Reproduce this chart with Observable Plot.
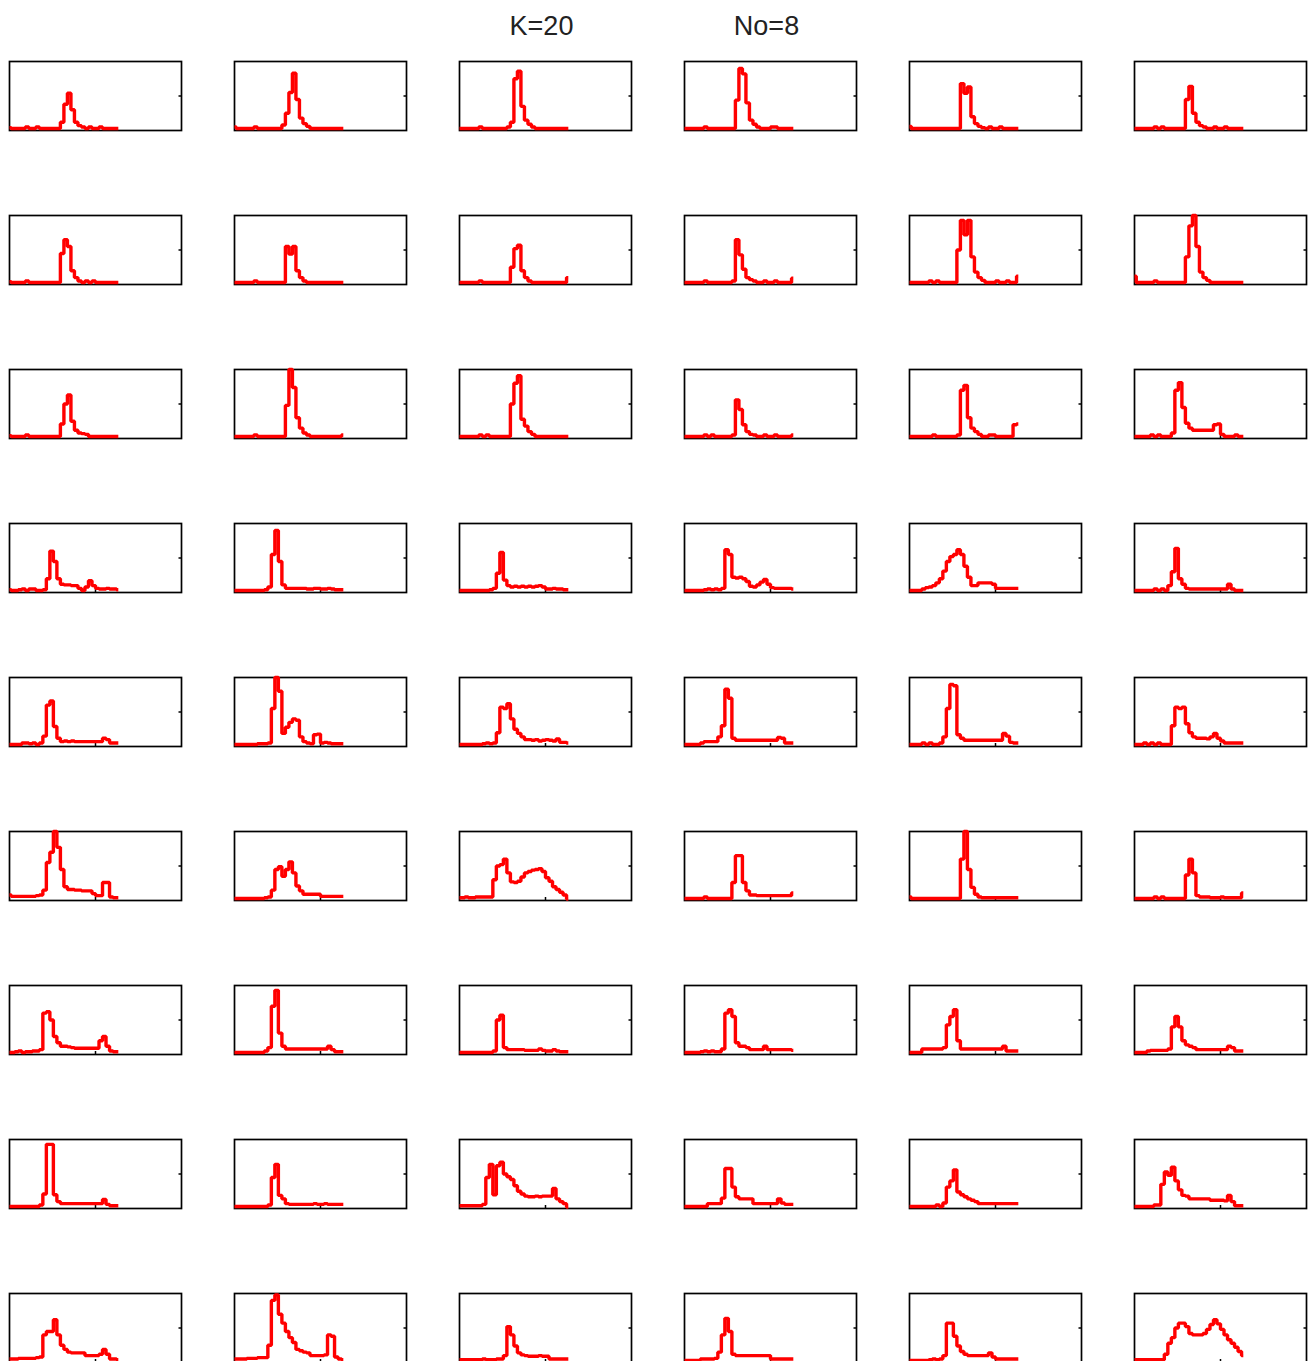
<!DOCTYPE html>
<html>
<head>
<meta charset="utf-8">
<script src="https://cdn.jsdelivr.net/npm/d3@7"></script>
<script src="https://cdn.jsdelivr.net/npm/@observablehq/plot@0.6"></script>
<style>
  html, body { margin: 0; padding: 0; background: #fff; }
  #chart svg { display: block; }
</style>
</head>
<body>
<div id="chart"></div>
<script>
// Bin positions shared by every panel (32 bins, 2 units apart).
const bins = d3.range(32).map(i => i * 2);

// Histogram heights (percent of panel height), one array per panel, six panels per row.
const row1 = [
  [4,3,3,3,3,5,3,3,5,3,3,3,3,3,3,12,38,54,30,12,7,5,3,5,3,3,5,3,3,3,3,3],
  [5,3,3,3,3,3,5,3,3,3,3,3,3,3,8,25,55,83,45,18,10,6,3,3,3,3,3,3,3,3,3,3],
  [3,3,3,3,3,3,5,3,3,3,3,3,3,3,5,12,75,86,35,15,9,5,3,3,3,3,3,3,3,3,3,3],
  [3,3,3,3,3,3,5,3,3,3,3,3,3,3,3,44,90,82,40,15,9,5,3,3,3,5,5,3,3,3,3,3],
  [6,3,3,3,3,3,3,3,3,3,3,3,3,3,3,68,54,63,20,10,6,4,3,5,3,3,5,3,3,3,3,3],
  [3,3,3,3,3,3,5,3,5,3,3,3,3,3,3,45,64,25,12,7,5,3,3,5,3,3,5,3,3,3,3,3]
];
const row2 = [
  [4,3,3,3,3,5,3,3,3,3,3,3,3,3,3,45,65,55,20,10,5,3,5,3,5,3,3,3,3,3,3,3],
  [3,3,3,3,3,3,5,3,3,3,3,3,3,3,3,55,44,55,20,10,5,3,3,3,3,3,3,3,3,3,3,3],
  [3,3,3,3,3,3,5,3,3,3,3,3,3,3,3,25,52,57,20,10,5,3,3,3,3,3,3,3,3,3,3,10],
  [3,3,3,3,3,3,5,3,3,3,3,3,3,3,5,65,43,22,10,7,5,3,3,5,3,3,5,3,3,3,3,9],
  [3,3,3,3,3,3,5,3,5,3,3,3,3,3,50,93,72,93,40,18,10,6,3,3,3,5,3,3,5,3,3,12],
  [12,3,3,3,3,3,5,3,3,3,3,3,3,3,3,40,85,100,55,18,10,6,3,3,3,3,3,3,3,3,3,3]
];
const row3 = [
  [4,3,3,3,3,5,3,3,3,3,3,3,3,3,3,21,50,63,25,12,8,7,6,3,3,3,3,3,3,3,3,3],
  [3,3,3,3,3,3,5,3,3,3,3,3,3,3,3,48,100,74,30,15,8,5,3,3,3,3,3,3,3,3,3,5],
  [3,3,3,3,3,3,5,3,5,3,3,3,3,3,3,50,80,91,28,18,10,6,3,3,3,3,3,3,3,3,3,3],
  [3,3,3,3,3,3,5,3,5,3,3,3,3,3,5,56,42,20,10,6,5,3,3,5,3,3,5,3,3,3,3,5],
  [3,3,3,3,3,3,3,5,3,3,3,3,3,3,5,70,77,30,15,10,6,3,3,5,5,3,3,3,3,3,20,21],
  [3,3,3,3,3,5,3,5,3,3,3,8,70,81,45,22,15,12,12,12,12,12,12,20,21,6,3,3,3,5,3,3]
];
const row4 = [
  [4,3,3,4,5,3,5,5,3,3,4,20,60,45,20,12,11,11,10,10,6,3,8,17,10,6,5,5,6,5,5,4],
  [3,3,3,3,3,3,3,3,3,4,8,55,90,45,11,6,6,6,6,6,6,5,5,6,6,5,5,6,5,4,4,4],
  [3,3,3,3,3,3,3,3,3,4,6,28,58,18,10,8,9,8,9,8,9,8,9,10,8,5,5,6,5,5,4,4],
  [3,3,3,3,3,3,4,5,4,5,4,6,62,55,22,21,22,20,16,9,8,11,15,19,12,7,6,6,6,6,6,5],
  [3,3,3,3,5,7,8,10,14,20,31,45,52,55,62,55,38,22,10,10,14,14,14,14,12,6,6,6,6,6,6,6],
  [3,3,3,3,3,3,5,3,5,3,10,30,64,20,12,6,5,5,5,5,5,5,5,5,5,5,5,12,5,3,3,3]
];
const row5 = [
  [3,3,3,3,5,5,4,5,3,5,15,60,66,29,12,7,8,7,8,7,7,7,7,7,7,7,7,12,10,5,5,5],
  [3,3,3,3,3,3,3,4,4,4,5,55,100,80,19,28,35,40,38,14,7,5,4,17,18,5,6,5,4,4,4,4],
  [3,3,3,3,3,3,3,4,5,4,5,20,57,55,62,40,25,19,14,10,10,9,10,8,9,10,9,8,11,6,6,5],
  [3,3,3,3,3,5,7,7,7,7,14,30,83,70,12,9,9,9,9,9,9,9,9,9,9,9,9,13,12,5,5,5],
  [3,3,3,3,5,3,5,3,3,5,14,55,90,88,17,12,9,9,9,9,9,9,9,9,9,9,9,19,15,6,5,5],
  [3,3,3,5,3,5,3,5,3,3,3,30,57,55,57,33,20,14,12,12,12,11,14,19,12,8,5,5,5,5,5,5]
];
const row6 = [
  [8,6,6,6,6,6,6,6,7,8,15,55,70,100,77,45,20,16,16,15,15,14,14,14,10,7,7,26,26,5,4,4],
  [3,3,3,3,3,3,3,3,3,4,5,15,45,49,35,45,56,40,21,14,9,9,9,9,9,6,6,6,6,6,6,6],
  [4,4,5,4,4,5,5,5,5,5,30,50,52,60,40,27,26,28,34,40,42,44,45,46,42,33,28,20,16,12,8,2],
  [3,3,3,3,3,3,5,3,3,3,3,3,3,3,26,65,65,26,14,8,8,7,7,7,7,7,7,7,7,7,7,11],
  [5,3,3,3,3,3,3,3,3,3,3,3,3,3,3,60,100,45,19,9,5,4,4,4,4,4,4,4,4,4,4,4],
  [3,3,3,3,3,3,5,3,5,3,3,3,3,3,3,37,60,40,7,5,5,5,4,4,4,5,4,4,4,4,4,11]
];
const row7 = [
  [3,3,4,5,3,4,4,5,5,7,60,62,50,26,17,12,12,11,10,9,9,9,9,9,9,9,20,26,12,5,4,4],
  [3,3,3,3,3,3,3,3,3,5,10,70,93,31,12,8,8,8,8,8,8,8,8,8,8,8,8,12,7,4,4,4],
  [3,3,3,3,3,3,3,3,3,3,5,50,57,10,7,7,7,7,7,6,6,6,6,8,6,5,5,7,5,4,4,4],
  [3,3,3,3,3,4,5,4,5,4,4,8,60,65,55,17,12,12,10,7,7,7,7,12,7,7,7,7,7,7,7,6],
  [3,3,3,3,8,8,8,8,8,8,10,43,55,65,20,8,8,8,8,8,8,8,8,8,8,8,8,12,5,5,5,5],
  [3,3,3,3,5,6,6,6,6,6,8,40,55,40,20,14,12,10,7,7,7,7,7,7,7,7,7,12,10,5,5,5]
];
const row8 = [
  [3,3,3,3,3,3,3,3,3,5,21,93,93,20,10,7,7,7,7,7,7,7,7,7,7,7,7,13,6,4,4,4],
  [3,3,3,3,3,3,3,3,3,3,5,45,64,19,14,7,6,6,6,6,6,6,6,7,6,6,7,6,6,6,6,6],
  [4,4,4,4,4,4,4,6,45,64,20,62,67,50,46,42,33,25,21,18,17,17,18,17,18,18,18,29,14,10,7,2],
  [3,3,3,3,3,3,3,7,7,7,7,15,58,58,31,17,14,14,14,14,7,7,7,7,7,7,7,14,8,6,6,6],
  [3,3,3,3,3,3,3,3,5,3,8,31,40,56,24,20,17,14,12,10,7,7,7,7,7,7,7,7,7,7,7,7],
  [3,3,3,3,3,3,5,5,35,53,48,60,40,27,19,18,14,14,14,14,14,14,12,12,12,12,11,19,10,4,4,4]
];
const row9 = [
  [5,5,5,6,6,6,6,6,7,8,40,45,45,62,40,25,19,15,14,14,14,14,10,10,10,10,12,19,12,5,5,4],
  [5,5,5,5,6,6,6,7,7,7,25,90,98,70,57,45,36,29,19,17,15,14,10,10,10,10,11,40,38,8,5,4],
  [4,4,4,4,4,4,4,5,4,4,4,5,5,10,52,40,24,14,11,10,9,9,9,10,9,9,5,5,5,5,5,5],
  [3,3,3,3,3,5,5,5,5,6,15,40,64,45,12,10,10,10,10,10,10,10,10,10,10,5,5,5,5,5,5,5],
  [3,3,3,3,3,3,4,5,4,5,10,57,57,38,24,16,12,10,10,10,10,10,10,14,8,5,5,5,5,5,5,5],
  [4,4,4,4,4,4,4,4,4,12,28,36,50,57,57,52,42,40,40,40,42,48,55,62,56,48,40,33,28,22,16,10]
];

// Panel titles shown above the third and fourth columns.
const titles = [
  {row: 1, col: 3, label: "K=20"},
  {row: 1, col: 4, label: "No=8"}
];

const rows = [row1, row2, row3, row4, row5, row6, row7, row8, row9];

// Long-format table: one record per bin per panel.
const data = rows.flatMap((panels, r) =>
  panels.flatMap((values, c) =>
    values.map((v, i) => ({row: r + 1, col: c + 1, x: bins[i], y: v}))
  )
);

const chart = Plot.plot({
  width: 1310,
  height: 1362,
  marginLeft: 8.5,
  marginRight: 4,
  marginTop: 60,
  marginBottom: 0,
  x: {domain: [0, 98], axis: null},
  y: {domain: [0, 100], axis: null},
  fx: {domain: [1, 2, 3, 4, 5, 6], axis: null, paddingInner: 0.234, paddingOuter: 0},
  fy: {domain: [1, 2, 3, 4, 5, 6, 7, 8, 9], axis: null, paddingInner: 0.552, paddingOuter: 0},
  marks: [
    Plot.frame({stroke: "#000", strokeWidth: 1.7}),
    // small inward ticks: mid-height on the right edge, mid-width on the bottom edge
    Plot.tickY([50], {y: d => d, insetLeft: 169.5, stroke: "#000", strokeWidth: 1.5}),
    Plot.tickX([49], {x: d => d, insetTop: 66, stroke: "#000", strokeWidth: 1.5}),
    Plot.line(data, {
      x: "x", y: "y", fx: "col", fy: "row",
      curve: "step", stroke: "#ff0000", strokeWidth: 3.4,
      strokeLinejoin: "miter", strokeLinecap: "butt"
    }),
    Plot.text(titles, {
      fx: "col", fy: "row", text: "label",
      frameAnchor: "top", lineAnchor: "bottom", dy: -27, dx: -4,
      fontSize: 27, fontFamily: "Liberation Sans, Arial, sans-serif",
      fill: "#222"
    })
  ]
});

document.getElementById("chart").appendChild(chart);
</script>
</body>
</html>
